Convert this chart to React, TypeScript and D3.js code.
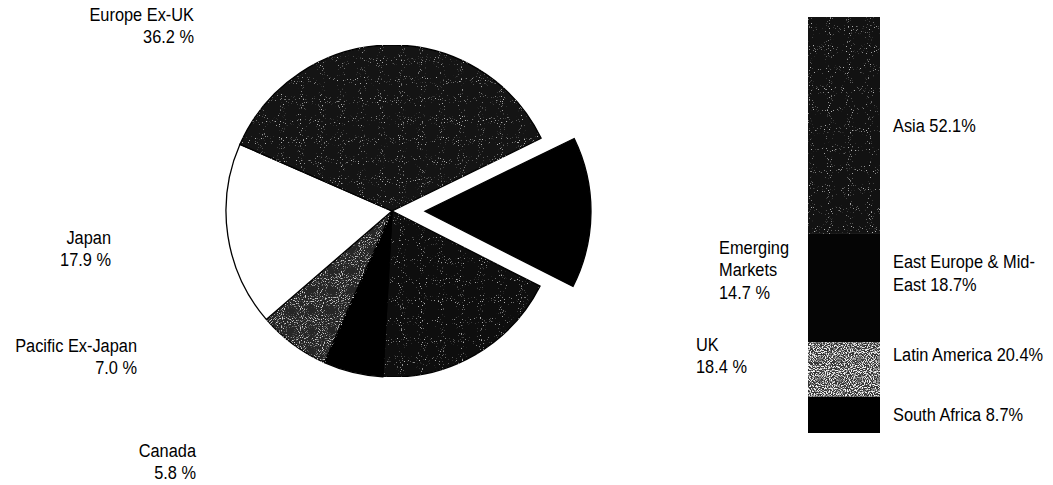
import React from "react";
import * as d3 from "d3";

// ---- data ----
const pieCategories = ["Emerging Markets", "UK", "Canada", "Pacific Ex-Japan", "Japan", "Europe Ex-UK"];
const pieValues = [14.7, 18.4, 5.8, 7.0, 17.9, 36.2];

const barCategories = ["Asia", "East Europe & Mid-East", "Latin America", "South Africa"];
const barValues = [52.1, 18.7, 20.4, 8.7];
// segment heights as they appear drawn in the picture
const barDrawnShares = [52.1, 26.0, 13.1, 8.7];

// ---- layout / style ----
const W = 1053;
const H = 485;
const cx = 392;
const cy = 211;
const R = 166;
const explodeOffset = 33;
const startDeg = 64;

const pieStyle: Record<string, { fill: string; filter?: string }> = {
  "Emerging Markets": { fill: "#000" },
  UK: { fill: "#0e0e0e", filter: "url(#speckleDark)" },
  Canada: { fill: "#000" },
  "Pacific Ex-Japan": { fill: "#262626", filter: "url(#speckleMid)" },
  Japan: { fill: "#fff" },
  "Europe Ex-UK": { fill: "#141414", filter: "url(#speckleDark)" },
};

const barStyle: Record<string, { fill: string; filter?: string }> = {
  Asia: { fill: "#121212", filter: "url(#speckleDark)" },
  "East Europe & Mid-East": { fill: "#050505" },
  "Latin America": { fill: "#333", filter: "url(#speckleLight)" },
  "South Africa": { fill: "#000" },
};

// label layout: anchor, x, baseline of first line, line breaks
const pieLabelLayout: Record<string, { anchor: string; x: number; y: number; lines: string[] }> = {
  "Emerging Markets": { anchor: "start", x: 719, y: 254, lines: ["Emerging", "Markets"] },
  UK: { anchor: "start", x: 696, y: 351, lines: ["UK"] },
  Canada: { anchor: "end", x: 196, y: 457, lines: ["Canada"] },
  "Pacific Ex-Japan": { anchor: "end", x: 137, y: 352, lines: ["Pacific Ex-Japan"] },
  Japan: { anchor: "end", x: 111, y: 244, lines: ["Japan"] },
  "Europe Ex-UK": { anchor: "end", x: 194, y: 21, lines: ["Europe Ex-UK"] },
};

const barLabelLines: Record<string, string[]> = {
  Asia: ["Asia"],
  "East Europe & Mid-East": ["East Europe & Mid-", "East"],
};

const barX0 = 808;
const barX1 = 880;
const barTop = 17;
const barBottom = 433;
const barLabelX = 893;

const FONT = "'Liberation Sans', Arial, sans-serif";
const FS = 18.5;
const LH = 22.5;
const SX = 0.885;

function Label({ x, y, anchor, lines }: { x: number; y: number; anchor: string; lines: string[] }) {
  return (
    <g transform={`translate(${x},${y}) scale(${SX},1)`}>
      <text fontFamily={FONT} fontSize={FS} fill="#000" textAnchor={anchor as any}>
        {lines.map((l, i) => (
          <tspan key={i} x={0} dy={i === 0 ? 0 : LH}>
            {l}
          </tspan>
        ))}
      </text>
    </g>
  );
}

function Speckle({
  id,
  freq,
  slope,
  intercept,
  seed,
  tone,
}: {
  id: string;
  freq: number;
  slope: number;
  intercept: number;
  seed: number;
  tone: number;
}) {
  return (
    <filter id={id} x="0" y="0" width="100%" height="100%" colorInterpolationFilters="sRGB">
      <feTurbulence type="fractalNoise" baseFrequency={freq} numOctaves={1} seed={seed} result="noise" />
      <feColorMatrix
        in="noise"
        type="matrix"
        values={`0 0 0 0 ${tone}  0 0 0 0 ${tone}  0 0 0 0 ${tone}  ${slope} 0 0 0 ${intercept}`}
        result="dots"
      />
      <feComposite in="dots" in2="SourceGraphic" operator="in" result="clipped" />
      <feMerge>
        <feMergeNode in="SourceGraphic" />
        <feMergeNode in="clipped" />
      </feMerge>
    </filter>
  );
}

export default function App() {
  const pie = d3
    .pie<number>()
    .sort(null)
    .startAngle((startDeg * Math.PI) / 180)
    .endAngle((startDeg * Math.PI) / 180 + 2 * Math.PI);
  const arcs = pie(pieValues);
  const arc = d3.arc<d3.PieArcDatum<number>>().innerRadius(0).outerRadius(R);

  const total = d3.sum(barValues);
  const y = d3.scaleLinear().domain([0, total]).range([barTop, barBottom]);
  const drawnTotal = d3.sum(barDrawnShares);
  const yDrawn = d3.scaleLinear().domain([0, drawnTotal]).range([barTop, barBottom]);
  const cumDrawn = d3.cumsum(barDrawnShares);
  const cum = d3.cumsum(barValues);

  return (
    <svg width={W} height={H} style={{ position: "absolute", left: 0, top: 0, background: "#fff" }}>
      <defs>
        <Speckle id="speckleDark" freq={0.95} slope={10} intercept={-6.6} seed={3} tone={0.7} />
        <Speckle id="speckleMid" freq={0.95} slope={7} intercept={-3.9} seed={5} tone={0.8} />
        <Speckle id="speckleLight" freq={0.95} slope={6} intercept={-2.7} seed={7} tone={0.95} />
      </defs>

      <g transform={`translate(${cx},${cy})`}>
        {arcs.map((a, i) => {
          const name = pieCategories[i];
          const st = pieStyle[name];
          const exploded = i === 0;
          const mid = (a.startAngle + a.endAngle) / 2;
          const dx = exploded ? Math.sin(mid) * explodeOffset : 0;
          const dy = exploded ? -Math.cos(mid) * explodeOffset : 0;
          return (
            <path
              key={name}
              d={arc(a) as string}
              transform={`translate(${dx},${dy})`}
              fill={st.fill}
              filter={st.filter}
              stroke="#000"
              strokeWidth={1.3}
            />
          );
        })}
      </g>

      {pieCategories.map((name, i) => {
        const l = pieLabelLayout[name];
        return (
          <Label
            key={name}
            x={l.x}
            y={l.y}
            anchor={l.anchor}
            lines={[...l.lines, `${pieValues[i].toFixed(1)} %`]}
          />
        );
      })}

      {barCategories.map((name, i) => {
        const y0 = yDrawn(i === 0 ? 0 : cumDrawn[i - 1]);
        const y1 = yDrawn(cumDrawn[i]);
        const st = barStyle[name];
        return (
          <rect
            key={name}
            x={barX0}
            y={y0}
            width={barX1 - barX0}
            height={y1 - y0}
            fill={st.fill}
            filter={st.filter}
          />
        );
      })}

      {barCategories.map((name, i) => {
        const c = y((i === 0 ? 0 : cum[i - 1]) + barValues[i] / 2);
        const base = barLabelLines[name] || [name];
        const lines = [...base];
        lines[lines.length - 1] = `${lines[lines.length - 1]} ${barValues[i].toFixed(1)}%`;
        const n = lines.length;
        const firstBaseline = c - ((n - 1) * LH) / 2 + 6.6;
        return <Label key={name} x={barLabelX} y={firstBaseline} anchor="start" lines={lines} />;
      })}
    </svg>
  );
}
